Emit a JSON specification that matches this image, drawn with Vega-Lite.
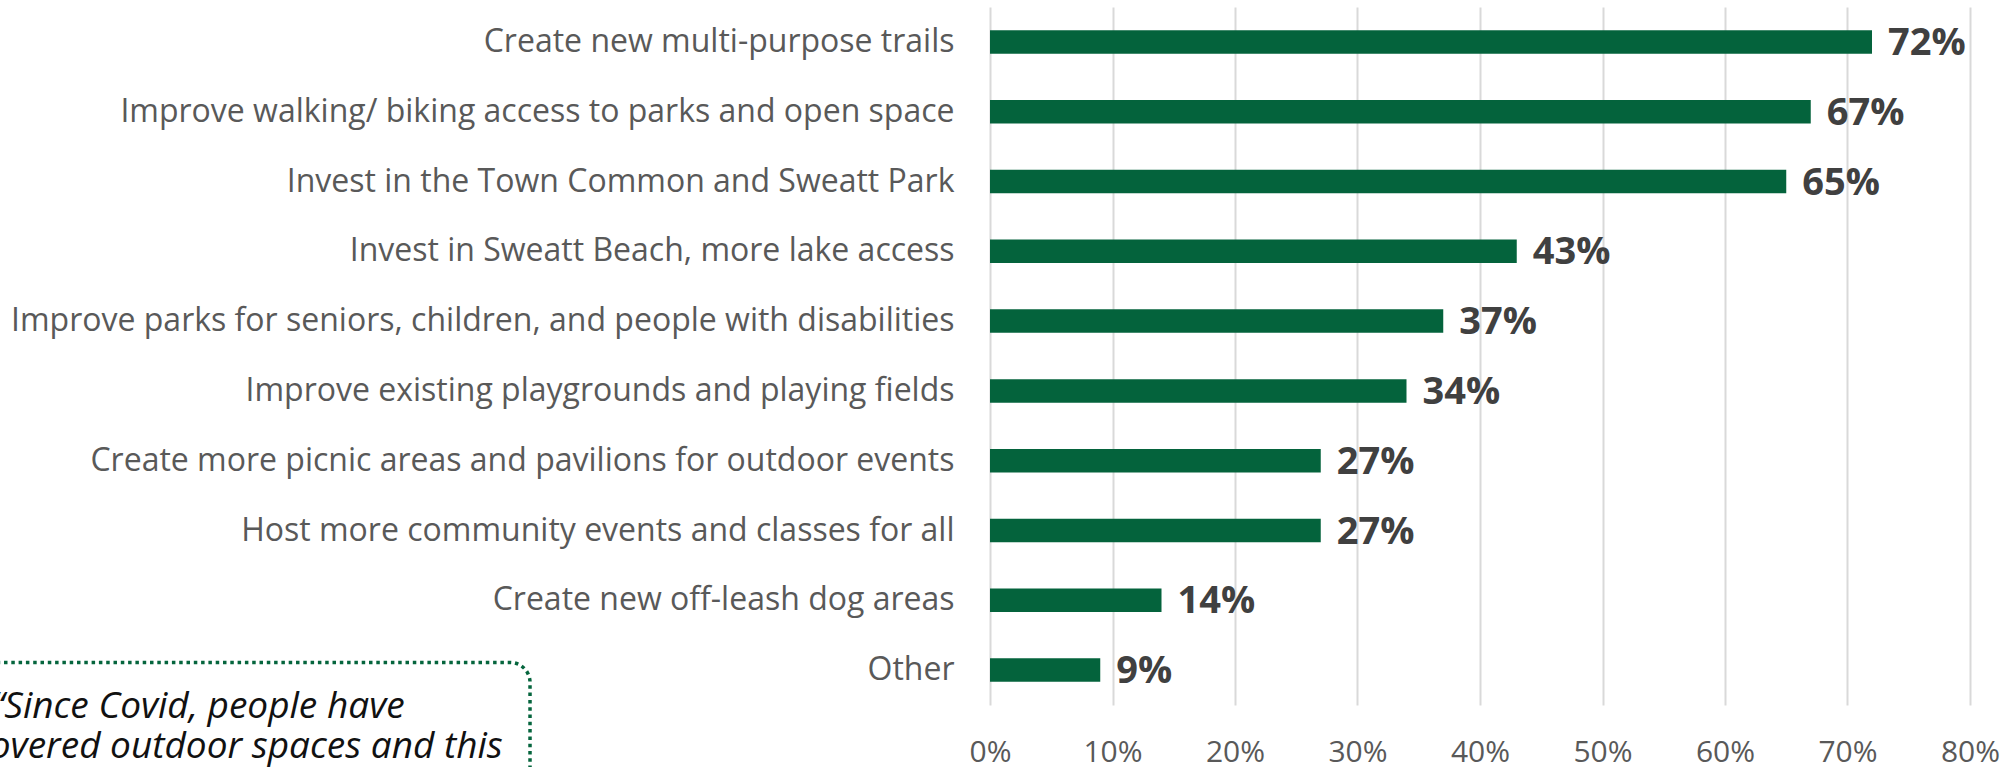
{
  "$schema": "https://vega.github.io/schema/vega-lite/v6.json",
  "width": 980,
  "height": 698,
  "autosize": {"type": "none"},
  "padding": {"left": 990, "top": 7, "right": 46, "bottom": 62},
  "background": "white",
  "config": {"view": {"stroke": null}, "font": "Open Sans"},
  "datasets": {
    "bars": [
      {"item": "Create new multi-purpose trails", "pct": 0.72},
      {"item": "Improve walking/ biking access to parks and open space", "pct": 0.67},
      {"item": "Invest in the Town Common and Sweatt Park", "pct": 0.65},
      {"item": "Invest in Sweatt Beach, more lake access", "pct": 0.43},
      {"item": "Improve parks for seniors, children, and people with disabilities", "pct": 0.37},
      {"item": "Improve existing playgrounds and playing fields", "pct": 0.34},
      {"item": "Create more picnic areas and pavilions for outdoor events", "pct": 0.27},
      {"item": "Host more community events and classes for all", "pct": 0.27},
      {"item": "Create new off-leash dog areas", "pct": 0.14},
      {"item": "Other", "pct": 0.09}
    ],
    "note": [
      {"quote": "“Since Covid, people have"}
    ]
  },
  "layer": [
    {
      "data": {"name": "bars"},
      "mark": {"type": "bar", "color": "#04633C"},
      "encoding": {
        "y": {
          "field": "item", "type": "nominal", "sort": null,
          "scale": {"paddingInner": 0.663, "paddingOuter": 0.3315},
          "axis": {
            "title": null, "domain": false, "ticks": false,
            "labelFontSize": 32, "labelColor": "#595959", "labelPadding": 36,
            "labelLimit": 1200
          }
        },
        "x": {
          "field": "pct", "type": "quantitative",
          "scale": {"domain": [0, 0.8]},
          "axis": {
            "title": null, "domain": false, "ticks": false,
            "values": [0, 0.1, 0.2, 0.3, 0.4, 0.5, 0.6, 0.7, 0.8],
            "format": ".0%", "labelFontSize": 30, "labelColor": "#595959",
            "labelPadding": 32, "labelFlush": false, "labelOverlap": false,
            "gridColor": "#D9D9D9", "gridWidth": 2
          }
        }
      }
    },
    {
      "data": {"name": "bars"},
      "mark": {"type": "text", "align": "left", "baseline": "middle", "dx": 16, "dy": 2, "fontSize": 38, "fontWeight": "bold", "color": "#404040"},
      "encoding": {
        "y": {
          "field": "item", "type": "nominal", "sort": null,
          "scale": {"paddingInner": 0.663, "paddingOuter": 0.3315},
          "axis": null
        },
        "x": {"field": "pct", "type": "quantitative"},
        "text": {"field": "pct", "type": "quantitative", "format": ".0%"}
      }
    },
    {
      "data": {"name": "note"},
      "mark": {"type": "rect", "fill": "white", "fillOpacity": 0, "stroke": "#05653D", "strokeWidth": 3.5, "strokeDash": [3.5, 3.8], "cornerRadius": 20, "clip": false},
      "encoding": {
        "x": {"datum": -1.0, "type": "quantitative"},
        "x2": {"datum": -0.3755},
        "y": {"datum": 0.61, "type": "quantitative", "scale": {"domain": [0, 10]}, "axis": null},
        "y2": {"datum": -3}
      }
    },
    {
      "data": {"name": "note"},
      "mark": {"type": "text", "align": "center", "baseline": "alphabetic", "fontSize": 37, "fontStyle": "italic", "color": "#111111", "lineHeight": 40,
        "text": ["“Since Covid, people have", "rediscovered outdoor spaces and this"]},
      "encoding": {
        "x": {"datum": -0.6465, "type": "quantitative"},
        "y": {"datum": -0.19, "type": "quantitative", "scale": {"domain": [0, 10]}, "axis": null}
      }
    }
  ],
  "resolve": {"scale": {"y": "independent"}}
}
